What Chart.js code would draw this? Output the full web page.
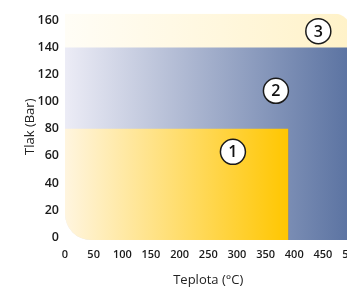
<!DOCTYPE html>
<html>
<head>
<meta charset="utf-8">
<script src="https://cdn.jsdelivr.net/npm/chart.js@4"></script>
<style>
  html, body { margin: 0; padding: 0; background: #fff; overflow: hidden; }
  #wrap { position: relative; width: 369px; height: 291px; }
</style>
</head>
<body>
<div id="wrap"><canvas id="chart"></canvas></div>
<script>
// 各領域 (1, 2, 3) の上限
const zoneNames = ['1', '2', '3'];
const zoneTempMax = [390, 500, 500];     // Teplota (°C)
const zonePressMax = [80, 140, 165];     // Tlak (Bar)

// 丸数字の位置
const markerTemp = [293, 368, 442];
const markerPress = [63, 108, 152];

// 目盛り
const xTicks = [0, 50, 100, 150, 200, 250, 300, 350, 400, 450, 500];
const yTicks = [0, 20, 40, 60, 80, 100, 120, 140, 160];

// 色 (左 → 右)
const zoneColors = [
  ['#fff5df', '#ffc600'],
  ['#ececf6', '#5a72a1'],
  ['#fffdf6', '#fff2c8']
];

function zoneGradient(i) {
  return (ctx) => {
    const chart = ctx.chart;
    if (!chart.chartArea) return zoneColors[i][1];
    const xs = chart.scales.x;
    const x0 = xs.getPixelForValue(0);
    const x1 = xs.getPixelForValue(zoneTempMax[i]);
    const g = chart.ctx.createLinearGradient(x0, 0, x1, 0);
    g.addColorStop(0, zoneColors[i][0]);
    g.addColorStop(1, zoneColors[i][1]);
    return g;
  };
}

const zoneDatasets = zoneNames.map((name, i) => ({
  type: 'line',
  label: name,
  data: [{ x: 0, y: zonePressMax[i] }, { x: zoneTempMax[i], y: zonePressMax[i] }],
  fill: 'start',
  backgroundColor: zoneGradient(i),
  borderWidth: 0,
  pointRadius: 0,
  order: i + 1
}));

// 角を丸くするクリップ
const roundClip = {
  id: 'roundClip',
  beforeDatasetsDraw(chart) {
    const { ctx, chartArea } = chart;
    const xs = chart.scales.x;
    const l = xs.getPixelForValue(0);
    const r = xs.getPixelForValue(500);
    const t = chartArea.top, b = chartArea.bottom;
    ctx.save();
    ctx.beginPath();
    ctx.roundRect(l, t, r - l, b - t, [0, 18, 0, 26]);
    ctx.clip();
  },
  afterDatasetsDraw(chart) {
    chart.ctx.restore();
  }
};

// 丸数字の文字と領域1の右端の線
const markerText = {
  id: 'markerText',
  afterDatasetsDraw(chart) {
    const ctx = chart.ctx;
    const xs = chart.scales.x, ys = chart.scales.y;
    ctx.save();
    // 領域1の右端
    const ex = Math.round(xs.getPixelForValue(zoneTempMax[0])) - 0.5;
    ctx.strokeStyle = 'rgba(150,140,120,0.6)';
    ctx.lineWidth = 1;
    ctx.beginPath();
    ctx.moveTo(ex, ys.getPixelForValue(zonePressMax[0]));
    ctx.lineTo(ex, chart.chartArea.bottom);
    ctx.stroke();
    // 丸数字
    const meta = chart.getDatasetMeta(0);
    meta.data.forEach((pt, i) => {
      ctx.beginPath();
      ctx.arc(pt.x, pt.y, 12.5, 0, Math.PI * 2);
      ctx.fillStyle = '#fff';
      ctx.fill();
      ctx.lineWidth = 1.5;
      ctx.strokeStyle = '#1a1a1a';
      ctx.stroke();
    });
    ctx.fillStyle = '#111';
    ctx.font = '600 16px "Open Sans"';
    ctx.textAlign = 'center';
    ctx.textBaseline = 'middle';
    meta.data.forEach((pt, i) => {
      ctx.fillText(zoneNames[i], pt.x, pt.y + 1);
    });
    ctx.restore();
  }
};

new Chart(document.getElementById('chart'), {
  type: 'scatter',
  data: {
    datasets: [{
      label: 'markers',
      data: markerTemp.map((t, i) => ({ x: t, y: markerPress[i] })),
      pointRadius: 0,
      pointHoverRadius: 0,
      order: 0
    }, ...zoneDatasets]
  },
  options: {
    responsive: true,
    maintainAspectRatio: false,
    animation: false,
    events: [],
    layout: { padding: { top: 10, right: 12, left: 0, bottom: 0 } },
    plugins: {
      legend: { display: false },
      tooltip: { enabled: false }
    },
    scales: {
      x: {
        type: 'linear',
        min: 0,
        max: 500,
        grid: { display: false, drawTicks: false },
        border: { display: false },
        afterBuildTicks: (s) => { s.ticks = xTicks.map(v => ({ value: v })); },
        afterFit: (s) => { s.height = 51; },
        ticks: {
          padding: 8,
          maxRotation: 0,
          autoSkip: false,
          color: '#1a1a1a',
          font: { family: 'Open Sans', size: 11, weight: '600' }
        },
        title: {
          display: true,
          text: 'Teplota (°C)',
          color: '#222',
          font: { family: 'Open Sans', size: 13 },
          padding: { top: 0, bottom: 3 }
        }
      },
      y: {
        type: 'linear',
        min: -2,
        max: 165,
        grid: { display: false, drawTicks: false },
        border: { display: false },
        afterBuildTicks: (s) => { s.ticks = yTicks.map(v => ({ value: v })); },
        afterFit: (s) => { s.width = 65; },
        ticks: {
          padding: 6,
          autoSkip: false,
          color: '#1a1a1a',
          font: { family: 'Open Sans', size: 12.5, weight: '600' }
        },
        title: {
          display: true,
          text: 'Tlak (Bar)',
          color: '#222',
          font: { family: 'Open Sans', size: 13 },
          padding: { top: 22, bottom: 0 }
        }
      }
    }
  },
  plugins: [roundClip, markerText]
});
</script>
</body>
</html>
